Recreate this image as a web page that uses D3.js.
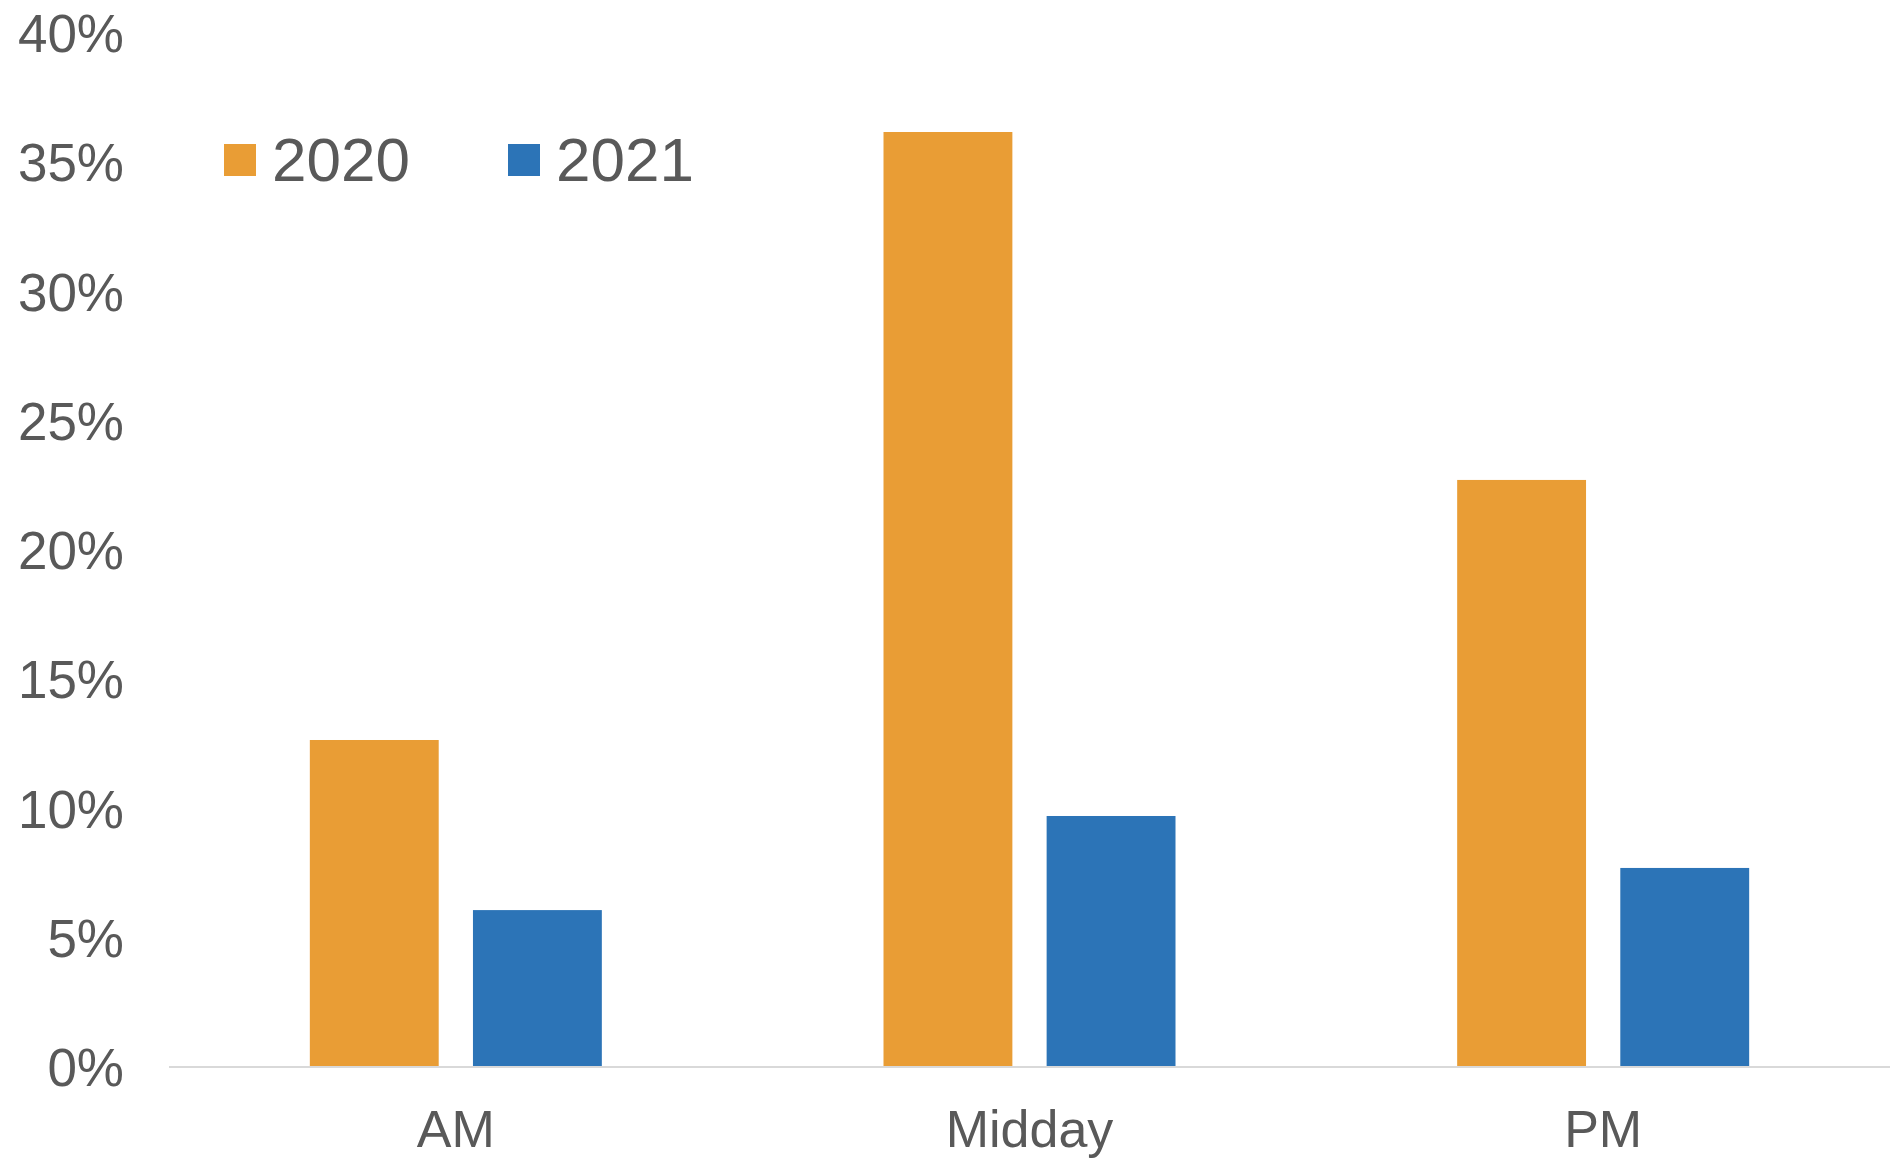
<!DOCTYPE html>
<html>
<head>
<meta charset="utf-8">
<script src="https://cdn.jsdelivr.net/npm/d3@7"></script>
<style>
  html, body { margin: 0; padding: 0; background: #fff; }
  svg { display: block; }
  text { font-family: Arial, "Liberation Sans", sans-serif; fill: #595959; }
</style>
</head>
<body>
<script>
const categories = ["AM", "Midday", "PM"];
const seriesNames = ["2020", "2021"];
const values2020 = [0.1265, 0.3617, 0.2271];
const values2021 = [0.0607, 0.0971, 0.0770];
const yTicks = [0, 0.05, 0.10, 0.15, 0.20, 0.25, 0.30, 0.35, 0.40];
const colors = ["#E99D35", "#2C74B7"];

(function () {
const W = 1892, H = 1159;
const mLeft = 169, mRight = 1890, mTop = 33, mBottom = 1067;

const svg = d3.select("body").append("svg").attr("width", W).attr("height", H);

const y = d3.scaleLinear().domain([0, 0.40]).range([mBottom, mTop]);
const x0 = d3.scaleBand().domain(categories).range([mLeft, mRight]).paddingInner(0).paddingOuter(0);
const bw = x0.bandwidth();
const groupW = 292;
const x1 = d3.scaleBand().domain(seriesNames)
  .range([bw / 2 - groupW / 2, bw / 2 + groupW / 2]).paddingInner(0.21).paddingOuter(0);

const data = categories.map((c, i) => ({ cat: c, vals: [values2020[i], values2021[i]] }));

// bars
const g = svg.append("g");
g.selectAll("g.cat").data(data).join("g")
  .attr("class", "cat")
  .attr("transform", d => `translate(${x0(d.cat)},0)`)
  .selectAll("rect").data(d => d.vals.map((v, j) => ({ s: seriesNames[j], v, j })))
  .join("rect")
  .attr("x", d => x1(d.s))
  .attr("width", x1.bandwidth())
  .attr("y", d => y(d.v))
  .attr("height", d => y(0) - y(d.v))
  .attr("fill", d => colors[d.j]);

// x axis line
svg.append("line")
  .attr("x1", mLeft).attr("x2", mRight)
  .attr("y1", y(0)).attr("y2", y(0))
  .attr("stroke", "#D9D9D9").attr("stroke-width", 2);

// y axis labels
const yAxis = d3.axisLeft(y).tickValues(yTicks).tickFormat(d3.format(".0%")).tickSize(0).tickPadding(0);
const ya = svg.append("g").attr("transform", `translate(124,0)`).call(yAxis);
ya.select(".domain").remove();
ya.selectAll("text")
  .attr("font-size", 53)
  .attr("font-family", "Arial, 'Liberation Sans', sans-serif")
  .attr("fill", "#595959")
  .attr("dy", "0.35em");

// x axis labels
const xAxis = d3.axisBottom(x0).tickSize(0).tickPadding(0);
const xa = svg.append("g").attr("transform", `translate(0,${y(0)})`).call(xAxis);
xa.select(".domain").remove();
xa.selectAll("text")
  .attr("font-size", 52)
  .attr("font-family", "Arial, 'Liberation Sans', sans-serif")
  .attr("fill", "#595959")
  .attr("dy", null)
  .attr("y", 80);

// legend
const legendX = [224, 508];
const leg = svg.append("g");
seriesNames.forEach((s, i) => {
  leg.append("rect").attr("x", legendX[i]).attr("y", 144).attr("width", 32).attr("height", 32).attr("fill", colors[i]);
  leg.append("text").attr("x", legendX[i] + 48).attr("y", 181)
    .attr("font-size", 62).attr("fill", "#595959").text(s);
});
})();
</script>
</body>
</html>
